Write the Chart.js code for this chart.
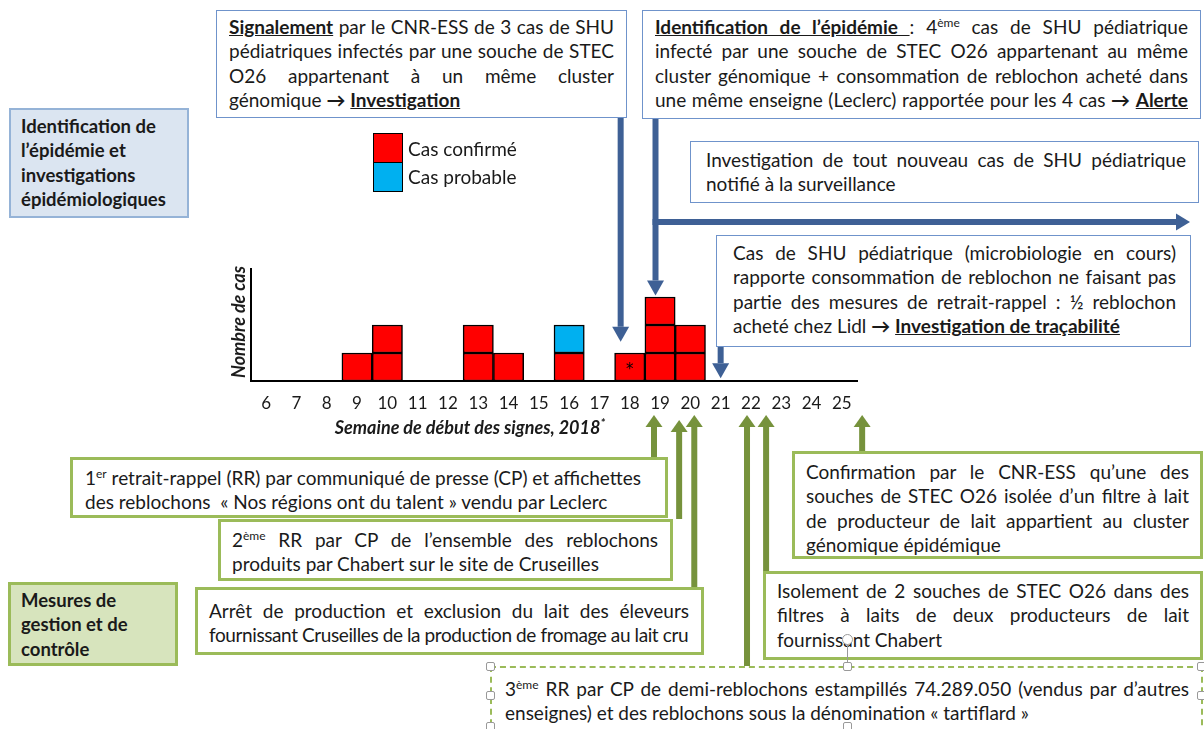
<!DOCTYPE html>
<html lang="fr">
<head>
<meta charset="utf-8">
<script src="https://cdn.jsdelivr.net/npm/chart.js@4.4.1/dist/chart.umd.min.js"></script>
<style>
  html, body { margin: 0; padding: 0; background: #fff; }
  #page { position: relative; width: 1204px; height: 729px; overflow: hidden; font-family: "Lato", sans-serif; color: #1a1a1a; }
  #courbe { position: absolute; left: 0; top: 0; }
  .box { position: absolute; box-sizing: border-box; background: #fff; font-size: 19px; line-height: 24.4px; }
  .bleu { border: 1.5px solid #6f93cb; }
  .vert { border: 3px solid #9bbb59; }
  .l { display: block; white-space: nowrap; }
  .j { text-align: justify; text-align-last: justify; }
  .serre { letter-spacing: -0.4px; }
  .etiq { position: absolute; box-sizing: border-box; font-weight: bold; font-size: 18.5px; line-height: 24.4px; padding: 4px 10px; }
  sup { font-size: 12px; line-height: 0; vertical-align: 7px; }
  .leg { position: absolute; font-size: 19px; }
  .carre { position: absolute; width: 30px; height: 30px; box-sizing: border-box; border: 1.5px solid #000; }
  .poignee { position: absolute; width: 7px; height: 7px; border: 1px solid #999; background: #fff; border-radius: 2px; }
</style>
</head>
<body>
<div id="page">
  <canvas id="courbe" width="1204" height="729"></canvas>

  <div class="etiq" style="left:9px;top:108px;width:180px;height:110px;background:#dbe5f1;border:2px solid #95b3d7;">
    <span class="l">Identification de</span><span class="l">l’épidémie et</span><span class="l">investigations</span><span class="l">épidémiologiques</span>
  </div>

  <div class="etiq" style="left:8px;top:582px;width:170px;height:84px;background:#d7e4bd;border:3px solid #9bbb59;padding-top:3px;">
    <span class="l">Mesures de</span><span class="l">gestion et de</span><span class="l">contrôle</span>
  </div>

  <div class="box bleu" style="left:216px;top:10px;width:411px;height:108px;padding:4px 12px;">
    <span class="l j"><u><b>Signalement</b></u> par le CNR-ESS de 3 cas de SHU</span>
    <span class="l j">pédiatriques infectés par une souche de STEC</span>
    <span class="l j">O26 appartenant à un même cluster</span>
    <span class="l">génomique <b>→</b> <u><b>Investigation</b></u></span>
  </div>

  <div class="box bleu" style="left:642px;top:10px;width:559px;height:109px;padding:4px 12px;">
    <span class="l j"><u><b>Identification de l’épidémie </b></u>: 4<sup>ème</sup> cas de SHU pédiatrique</span>
    <span class="l j">infecté par une souche de STEC O26 appartenant au même</span>
    <span class="l j">cluster génomique + consommation de reblochon acheté dans</span>
    <span class="l j">une même enseigne (Leclerc) rapportée pour les 4 cas <b>→</b> <u><b>Alerte</b></u></span>
  </div>

  <div class="box bleu" style="left:690px;top:141px;width:509px;height:62px;padding:6px 12px 0 15px;">
    <span class="l j">Investigation de tout nouveau cas de SHU pédiatrique</span>
    <span class="l">notifié à la surveillance</span>
  </div>

  <div class="box bleu" style="left:716px;top:235px;width:475px;height:112px;padding:5px 14px 0 16px;">
    <span class="l j">Cas de SHU pédiatrique (microbiologie en cours)</span>
    <span class="l j">rapporte consommation de reblochon ne faisant pas</span>
    <span class="l j">partie des mesures de retrait-rappel : ½ reblochon</span>
    <span class="l">acheté chez Lidl <b>→</b> <u><b>Investigation de traçabilité</b></u></span>
  </div>

  <div class="leg" style="left:408px;top:137px;">Cas confirmé</div>
  <div class="leg" style="left:408px;top:165px;">Cas probable</div>
  <div class="carre" style="left:373px;top:133px;background:#ff0000;"></div>
  <div class="carre" style="left:373px;top:162px;background:#00b0f0;"></div>

  <div style="position:absolute;left:238px;top:322px;transform:translate(-50%,-50%) rotate(-90deg);font-size:18px;font-weight:bold;font-style:italic;white-space:nowrap;">Nombre de cas</div>
  <div style="position:absolute;left:470px;top:427px;transform:translate(-50%,-50%);font-size:18px;font-weight:bold;font-style:italic;white-space:nowrap;">Semaine de début des signes, 2018<sup>*</sup></div>

  <div class="box vert" style="left:70px;top:457px;width:598px;height:61px;padding:6px 12px 0 12px;">
    <span class="l">1<sup>er</sup> retrait-rappel (RR) par communiqué de presse (CP) et affichettes</span>
    <span class="l">des reblochons&nbsp; « Nos régions ont du talent » vendu par Leclerc</span>
  </div>

  <div class="box vert" style="left:218px;top:519px;width:455px;height:62px;padding:6px 12px 0 11px;">
    <span class="l j">2<sup>ème</sup> RR par CP de l’ensemble des reblochons</span>
    <span class="l">produits par Chabert sur le site de Cruseilles</span>
  </div>

  <div class="box vert" style="left:195px;top:587px;width:509px;height:68px;padding:9px 12px 0 11px;">
    <span class="l j">Arrêt de production et exclusion du lait des éleveurs</span>
    <span class="l serre">fournissant Cruseilles de la production de fromage au lait cru</span>
  </div>

  <div class="box vert" style="left:792px;top:451px;width:411px;height:108px;padding:6px 11px 0 11px;">
    <span class="l j">Confirmation par le CNR-ESS qu’une des</span>
    <span class="l j">souches de STEC O26 isolée d’un filtre à lait</span>
    <span class="l j">de producteur de lait appartient au cluster</span>
    <span class="l">génomique épidémique</span>
  </div>

  <div class="box vert" style="left:763px;top:571px;width:440px;height:89px;padding:5px 11px 0 11px;">
    <span class="l j">Isolement de 2 souches de STEC O26 dans des</span>
    <span class="l j">filtres à laits de deux producteurs de lait</span>
    <span class="l">fournissant Chabert</span>
  </div>

  <div class="box" style="left:490px;top:666px;width:713px;height:70px;border:2px dashed #9bbb59;padding:9px 12px 0 13px;">
    <span class="l j">3<sup>ème</sup> RR par CP de demi-reblochons estampillés 74.289.050 (vendus par d’autres</span>
    <span class="l">enseignes) et des reblochons sous la dénomination « tartiflard »</span>
  </div>
  <div style="position:absolute;left:847px;top:642px;width:1px;height:24px;background:#999;"></div>
  <div class="poignee" style="left:842px;top:634px;border-radius:50%;width:9px;height:9px;"></div>
  <div class="poignee" style="left:486px;top:662px;"></div>
  <div class="poignee" style="left:843px;top:662px;"></div>
  <div class="poignee" style="left:1197px;top:662px;"></div>
  <div class="poignee" style="left:486px;top:691px;"></div>
  <div class="poignee" style="left:1197px;top:691px;"></div>
  <div class="poignee" style="left:486px;top:722px;"></div>
  <div class="poignee" style="left:843px;top:722px;"></div>
</div>

<script>
// semaines de début des signes
var semaines = ['6','7','8','9','10','11','12','13','14','15','16','17','18','19','20','21','22','23','24','25'];
var casConfirmes = [0,0,0,1,2,0,0,2,1,0,1,0,1,3,2,0,0,0,0,0];
var casProbables = [0,0,0,0,0,0,0,0,0,0,1,0,0,0,0,0,0,0,0,0];
var semaineAsterisque = '18';

// fleches d'investigation (bleues) : semaine visee et hauteur de la pointe (en nb de cas)
var investSemaines = [17.7, 18.85, 21];
var investPointe = [1.4, 3.05, 0.1];
// fleches des mesures de gestion (vertes) : semaine
var mesuresSemaines = [18.8, 19.63, 20.13, 21.87, 22.5, 25.67];

// un jeu par "etage" pour dessiner chaque cas comme un carre
var datasets = [];
for (var k = 1; k <= 3; k++) {
  datasets.push({
    label: 'Cas confirmé',
    data: casConfirmes.map(function (v) { return v >= k ? 1 : null; }),
    backgroundColor: '#ff0000',
    borderColor: '#000',
    borderWidth: 1.5,
    borderSkipped: false
  });
}
datasets.push({
  label: 'Cas probable',
  data: casProbables.map(function (v) { return v > 0 ? v : null; }),
  backgroundColor: '#00b0f0',
  borderColor: '#000',
  borderWidth: 1.5,
  borderSkipped: false
});

function fleche(ctx, x1, y1, x2, y2, couleur, ep, larg, long) {
  var ang = Math.atan2(y2 - y1, x2 - x1);
  var bx = x2 - Math.cos(ang) * long, by = y2 - Math.sin(ang) * long;
  ctx.save();
  ctx.strokeStyle = couleur;
  ctx.fillStyle = couleur;
  ctx.lineWidth = ep;
  ctx.beginPath();
  ctx.moveTo(x1, y1);
  ctx.lineTo(bx, by);
  ctx.stroke();
  ctx.beginPath();
  ctx.moveTo(x2, y2);
  ctx.lineTo(bx + Math.sin(ang) * larg / 2, by - Math.cos(ang) * larg / 2);
  ctx.lineTo(bx - Math.sin(ang) * larg / 2, by + Math.cos(ang) * larg / 2);
  ctx.closePath();
  ctx.fill();
  ctx.restore();
}

var annotations = {
  id: 'annotations',
  afterDraw: function (chart) {
    var ctx = chart.ctx;
    var xs = chart.scales.x, ys = chart.scales.y;
    var bleu = '#3e6095', vert = '#76923c';

    // asterisque dans le cas de la semaine 18
    var i18 = semaines.indexOf(semaineAsterisque);
    ctx.save();
    ctx.fillStyle = '#000';
    ctx.font = '15px "DejaVu Sans"';
    ctx.textAlign = 'center';
    ctx.textBaseline = 'middle';
    ctx.fillText('*', xs.getPixelForValue(i18), ys.getPixelForValue(0.5) + 3);
    ctx.restore();

    // fleches bleues depuis les encadres du haut
    var departs = [118, 119, 347];
    investSemaines.forEach(function (s, i) {
      var x = xs.getPixelForValue(s - 6);
      fleche(ctx, x, departs[i], x, ys.getPixelForValue(investPointe[i]), bleu, 6, 17, 15);
    });
    var xId = xs.getPixelForValue(investSemaines[1] - 6);
    fleche(ctx, xId - 3, 222, 1190, 222, bleu, 6, 17, 14);

    // fleches vertes depuis les encadres des mesures
    var bas = [458, 519, 588, 667, 572, 452];
    var pointes = [415, 420, 415, 415, 415, 415];
    mesuresSemaines.forEach(function (s, i) {
      var x = xs.getPixelForValue(s - 6);
      fleche(ctx, x, bas[i], x, pointes[i], vert, 6, 17, 12);
    });
  }
};

new Chart(document.getElementById('courbe').getContext('2d'), {
  type: 'bar',
  data: { labels: semaines, datasets: datasets },
  options: {
    responsive: false,
    animation: false,
    events: [],
    layout: { padding: { left: 251, right: 347, top: 269, bottom: 318 } },
    plugins: { legend: { display: false }, tooltip: { enabled: false } },
    datasets: { bar: { categoryPercentage: 1, barPercentage: 1 } },
    scales: {
      x: {
        stacked: true,
        grid: { display: false },
        border: { color: '#000', width: 2 },
        ticks: { color: '#1a1a1a', font: { family: 'Lato', size: 17 }, padding: 4, maxRotation: 0, autoSkip: false },
        afterFit: function (s) { s.height = 30; }
      },
      y: {
        stacked: true,
        min: 0,
        max: 4,
        grid: { display: false },
        border: { color: '#000', width: 2 },
        ticks: { display: false },
        afterFit: function (s) { s.width = 0; }
      }
    }
  },
  plugins: [annotations]
});
</script>
</body>
</html>
